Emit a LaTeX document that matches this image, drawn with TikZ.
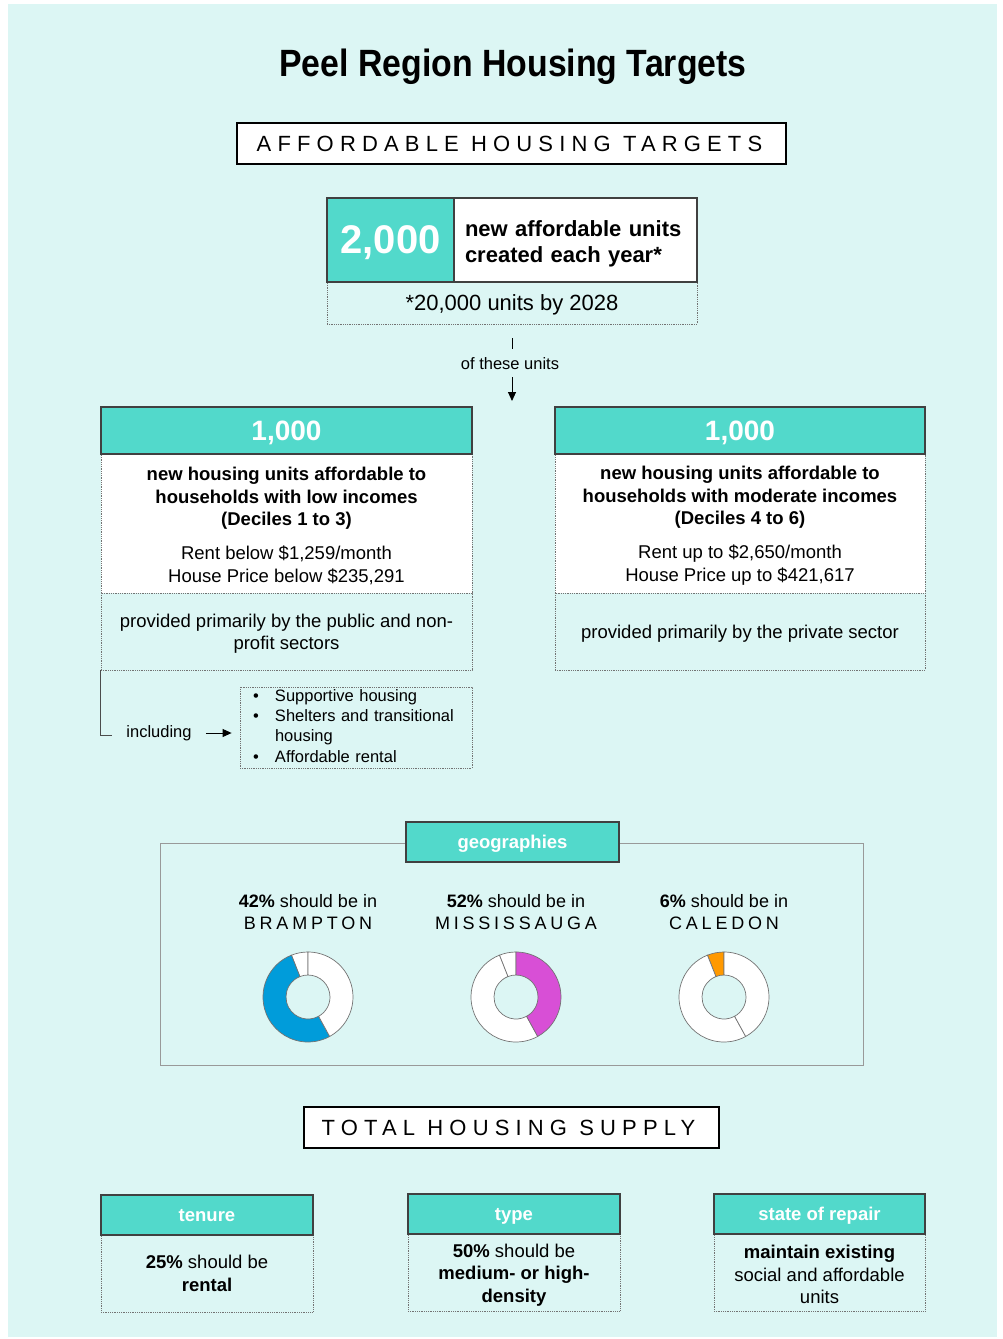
\documentclass[tikz,border=0pt]{standalone}
\usepackage{graphicx}
\usepackage{fontspec}
\setmainfont{Liberation Sans}
\newfontfamily\spacedfont[LetterSpace=28]{Liberation Sans}
\newfontfamily\townfont[LetterSpace=21]{Liberation Sans}
\usetikzlibrary{arrows.meta}

\definecolor{bgcyan}{HTML}{DCF6F4}
\definecolor{headteal}{HTML}{52D9CB}
\definecolor{brblue}{HTML}{009CDA}
\definecolor{mimagenta}{HTML}{D84FD6}
\definecolor{caorange}{HTML}{FF9900}

\tikzset{
  tealhead/.style={draw=black!75, line width=1.2pt, fill=headteal, text=white, inner sep=0pt, text depth=0pt,
    font=\bfseries\fontsize{18.5}{22}\selectfont},
  whitebody/.style={draw=black!55, densely dotted, line width=0.8pt, fill=white, inner sep=0pt,
    align=center, font=\fontsize{18.5}{22.5}\selectfont},
  cyanbody/.style={whitebody, fill=bgcyan},
  bigtitle/.style={draw=black, line width=1.5pt, fill=white, inner sep=0pt,
    font=\spacedfont\fontsize{22}{26}\selectfont},
  smalltxt/.style={font=\fontsize{16.5}{20}\selectfont, inner sep=1pt},
  townlbl/.style={align=center, font=\fontsize{18}{22}\selectfont},
  ringline/.style={draw=black!55, line width=0.7pt},
  pointer/.style={-{Triangle[length=9pt,width=8pt]}, line width=0.9pt},
}

\newcommand{\ringpart}[3]{%
  \filldraw[ringline, fill=#3] (#1:45) arc[start angle=#1, end angle=#2, radius=45]
    -- (#2:22) arc[start angle=#2, end angle=#1, radius=22] -- cycle;}

\begin{document}
\begin{tikzpicture}[x=1pt,y=-1pt]

    \fill[white] (0,0) rectangle (1003,1339);
    \fill[bgcyan] (8,4) rectangle (997,1337);
    \useasboundingbox (0,0) rectangle (1003,1339);

    \node[font=\bfseries\fontsize{38}{44}\selectfont] (title) at (513,67) {\scalebox{0.89}[1]{Peel Region Housing Targets}};
    \node[bigtitle, minimum width=549, minimum height=41] (afford) at (511.5,143.5) {AFFORDABLE HOUSING TARGETS\kern4pt};

    \node[cyanbody, minimum width=370, minimum height=42, text depth=0pt, font=\fontsize{22}{26}\selectfont] (by2028) at (512,303) {*20,000 units by 2028};
    \node[tealhead, minimum width=127, minimum height=84, font=\bfseries\fontsize{40}{44}\selectfont] (twok) at (390.5,240) {2,000};
    \node[draw=black!75, line width=1.2pt, fill=white, minimum height=84, text width=221, inner xsep=11, align=left,
      font=\bfseries\fontsize{22}{26}\selectfont] (yearly) at (575.5,240) {\rule{0pt}{24pt}new affordable units\\created each year*};

    \node[smalltxt] (ofunits) at (510,364) {of these units};
    \coordinate (tick) at (512,338);
    \coordinate (arrtip) at (512,401);
    \draw[line width=0.8pt, shorten >=8pt] (tick) -- (ofunits.north -| tick);
    \draw[pointer, shorten <=6pt] (ofunits.south -| arrtip) -- (arrtip);

    \node[whitebody, minimum width=371, minimum height=139] (lowbody) at (286.5,523.5)
      {\rule{0pt}{18pt}\textbf{new housing units affordable to}\\\textbf{households with low incomes}\\\textbf{(Deciles 1 to 3)}\\[11.5pt]Rent below \$1,259/month\\House Price below \$235,291};
    \node[cyanbody, minimum width=371, minimum height=77] (lowsrc) at (286.5,631.5) {\rule{0pt}{18pt}provided primarily by the public and non-\\profit sectors};
    \node[tealhead, minimum width=371, minimum height=47, font=\bfseries\fontsize{28}{32}\selectfont] (lowhead) at (286.5,430.5) {1,000};

    \node[whitebody, minimum width=370, minimum height=139] (modbody) at (740,523.5)
      {\rule{0pt}{18pt}\textbf{new housing units affordable to}\\\textbf{households with moderate incomes}\\\textbf{(Deciles 4 to 6)}\\[11.5pt]Rent up to \$2,650/month\\House Price up to \$421,617};
    \node[cyanbody, minimum width=370, minimum height=77, text depth=0pt] (modsrc) at (740,631.5) {provided primarily by the private sector};
    \node[tealhead, minimum width=370, minimum height=47, font=\bfseries\fontsize{28}{32}\selectfont] (modhead) at (740,430.5) {1,000};

    \coordinate (inclcorner) at (112,735);
    \draw[line width=0.8pt, black!70] (lowsrc.south west) |- (inclcorner);
    \node[smalltxt] (incl) at (159,733) {including};
    \node[cyanbody, minimum width=232, minimum height=81, text width=206, inner xsep=13, align=left,
      font=\fontsize{16.5}{20.3}\selectfont] (incllist) at (356,727.5)
      {\begin{tabular}{@{}p{22pt}@{}l@{}}
        \textbullet & Supportive housing\\
        \textbullet & Shelters and transitional\\
                    & housing\\
        \textbullet & Affordable rental
       \end{tabular}};
    \draw[pointer, shorten <=13pt, shorten >=8pt] (incl.east) -- (incl.east -| incllist.west);

    \node[draw=black!40, line width=0.8pt, minimum width=703, minimum height=222] (geoframe) at (511.5,954) {};
    \node[tealhead, minimum width=213, minimum height=40] (geohead) at (512.5,842) {geographies};

    \node[townlbl] (bramtxt) at (308,912.5) {\textbf{42\%} should be in\\{\townfont BRAMPTON}};
    \node[townlbl] (missitxt) at (516,912.5) {\textbf{52\%} should be in\\{\townfont MISSISSAUGA}};
    \node[townlbl] (caletxt) at (724,912.5) {\textbf{6\%} should be in\\{\townfont CALEDON}};

    \begin{scope}[shift={(308,997)}, yscale=-1]
        \ringpart{90}{111.6}{white}
        \ringpart{111.6}{298.8}{brblue}
        \ringpart{298.8}{450}{white}
    \end{scope}
    \begin{scope}[shift={(516,997)}, yscale=-1]
        \ringpart{90}{111.6}{white}
        \ringpart{111.6}{298.8}{white}
        \ringpart{298.8}{450}{mimagenta}
    \end{scope}
    \begin{scope}[shift={(724,997)}, yscale=-1]
        \ringpart{90}{111.6}{caorange}
        \ringpart{111.6}{298.8}{white}
        \ringpart{298.8}{450}{white}
    \end{scope}

    \node[bigtitle, minimum width=415, minimum height=41] (totalsup) at (511.5,1127.5) {TOTAL HOUSING SUPPLY\kern6pt};

    \node[cyanbody, minimum width=212, minimum height=77] (tenbody) at (207,1273.5) {\textbf{25\%} should be\\\textbf{rental}};
    \node[tealhead, minimum width=212, minimum height=40] (tenhead) at (207,1215) {tenure};

    \node[cyanbody, minimum width=212, minimum height=77] (typebody) at (514,1272.5) {\rule{0pt}{18pt}\textbf{50\%} should be\\\textbf{medium- or high-}\\\textbf{density}};
    \node[tealhead, minimum width=212, minimum height=40] (typehead) at (514,1214) {type};

    \node[cyanbody, minimum width=211, minimum height=77] (repbody) at (819.5,1272.5) {\rule{0pt}{18pt}\textbf{maintain existing}\\social and affordable\\units};
    \node[tealhead, minimum width=211, minimum height=40] (rephead) at (819.5,1214) {state of repair};
\end{tikzpicture}
\end{document}
